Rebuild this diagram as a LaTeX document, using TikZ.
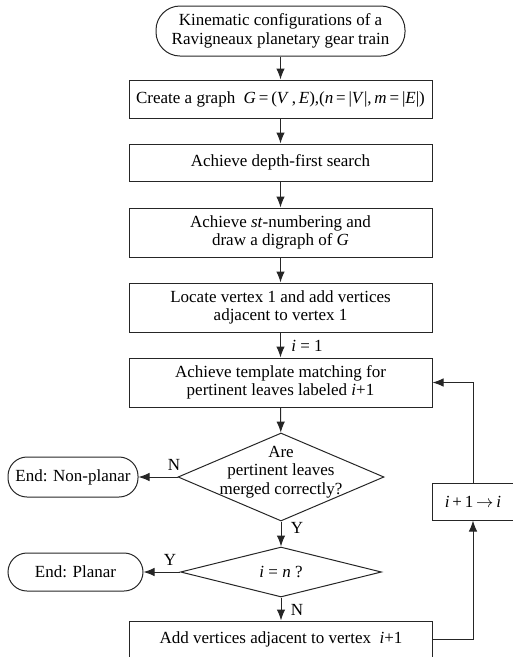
\documentclass[tikz,border=0pt]{standalone}
\usepackage{fontspec}
\setmainfont{Liberation Serif}
\usetikzlibrary{arrows.meta,shapes.geometric}

\tikzset{
  base/.style={draw=black!85, line width=1pt, inner sep=0pt, align=center,
    font=\fontsize{17}{18.5}\selectfont},
  proc/.style={base, rectangle, minimum width=303pt},
  term/.style={base, rectangle, rounded corners=19pt},
  dec/.style={base, diamond},
  txt/.style={inner sep=0pt, align=center, font=\fontsize{17}{18.5}\selectfont},
  arr/.style={draw=black!85, line width=1pt, -{Latex[length=11pt,width=8.5pt]}},
}

\begin{document}
\begin{tikzpicture}[x=1pt,y=-1pt]
\useasboundingbox (0,0) rectangle (513,657);
\clip (0,0) rectangle (513,657);

% main column
\node[term, minimum width=249pt, minimum height=50pt, rounded corners=24pt] (start) at (280.5,31)
  {Kinematic configurations of a\\Ravigneaux planetary gear train};
\node[proc, minimum height=38pt] (b1) at (280.5,99)
  {Create a graph \ \textit{G}\,=\,(\textit{V}\,,\,\textit{E}),(\textit{n}\,=\,|\textit{V}|,\,\textit{m}\,=\,|\textit{E}|)};
\node[proc, minimum height=37pt] (b2) at (280.5,162.5) {Achieve depth-first search};
\node[proc, minimum height=49pt] (b3) at (280.5,232.5)
  {Achieve \textit{st}-numbering and\\draw a digraph of \textit{G}};
\node[proc, minimum height=49pt] (b4) at (280.5,307.5)
  {Locate vertex 1 and add vertices\\adjacent to vertex 1};
\node[proc, minimum height=49pt] (b5) at (280.5,382.5)
  {Achieve template matching for\\pertinent leaves labeled \textit{i}+1};

% decisions
\node[dec, minimum width=206pt, minimum height=88pt] (d1) at (281,477) {};
\node[txt] (d1t) at (281,472) {Are\\pertinent leaves\\merged correctly?};
\node[dec, minimum width=201pt, minimum height=50pt] (d2) at (281,572) {};
\node[txt] (d2t) at (281,572) {\textit{i} = \textit{n} ?};

% terminals
\node[term, minimum width=130pt, minimum height=40pt] (np) at (73,477) {End: Non-planar};
\node[term, minimum width=135pt, minimum height=38pt] (pl) at (75.5,572) {End: Planar};

% bottom step and loop counter
\node[proc, minimum height=37pt] (b6) at (281,639.5) {Add vertices adjacent to vertex \ \textit{i}+1};
\node[base, rectangle, minimum width=82pt, minimum height=37pt] (inc) at (473,501.5)
  {\textit{i}\,+\,1\,$\rightarrow$\,\textit{i}};

% connectors
\draw[arr] (start) -- (b1);
\draw[arr] (b1) -- (b2);
\draw[arr] (b2) -- (b3);
\draw[arr] (b3) -- (b4);
\draw[arr] (b4) -- (b5);
\node[txt] (l1) at (307,346) {\textit{i} = 1};
\draw[arr] (b5) -- (d1);
\draw[arr] (d1.west) -- (np.east);
\node[txt] (ln1) at (174,465) {N};
\draw[arr] (d1.south) -- (d2.north);
\node[txt] (ly1) at (297,528) {Y};
\draw[arr] (d2.west) -- (pl.east);
\node[txt] (ly2) at (170,560) {Y};
\draw[arr] (d2.south) -- (b6.north);
\node[txt] (ln2) at (297,610) {N};
\draw[arr] (b6.east) -| (inc.south);
\draw[arr] (inc.north) |- (b5.east);
\end{tikzpicture}
\end{document}
